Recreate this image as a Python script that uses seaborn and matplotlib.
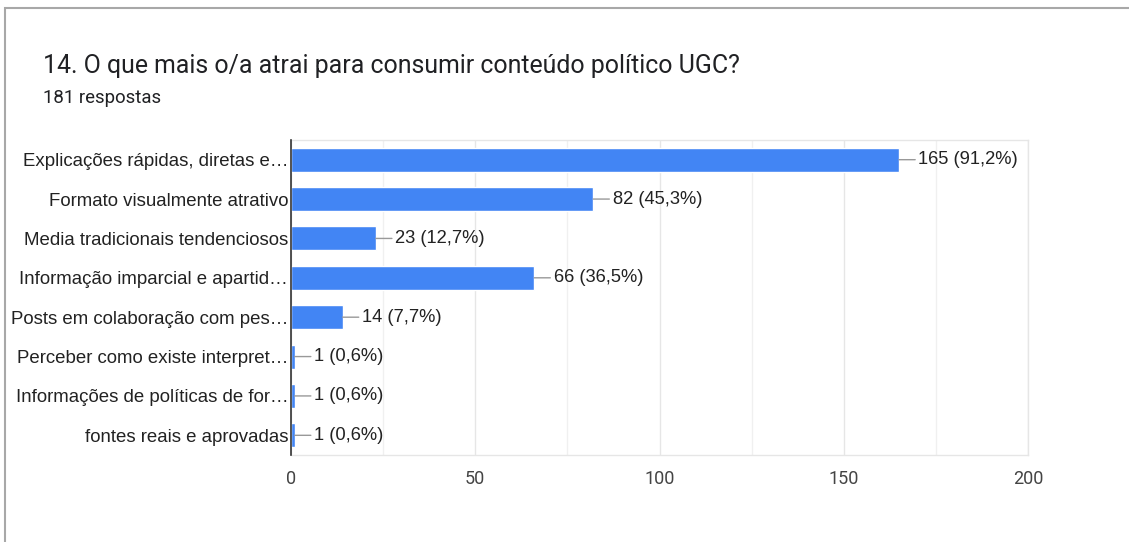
import matplotlib
matplotlib.use("Agg")
import matplotlib.pyplot as plt
import seaborn as sns
import pandas as pd
from matplotlib.patches import Rectangle

categories = [
    "Explicações rápidas, diretas e…",
    "Formato visualmente atrativo",
    "Media tradicionais tendenciosos",
    "Informação imparcial e apartid…",
    "Posts em colaboração com pes…",
    "Perceber como existe interpret…",
    "Informações de políticas de for…",
    "fontes reais e aprovadas",
]
counts = [165, 82, 23, 66, 14, 1, 1, 1]
percents = ["91,2%", "45,3%", "12,7%", "36,5%", "7,7%", "0,6%", "0,6%", "0,6%"]
xticks = [0, 50, 100, 150, 200]

df = pd.DataFrame({"cat": categories, "n": counts})

sns.set_theme(style="white")
plt.rcParams["font.family"] = ["Liberation Sans", "DejaVu Sans"]

fig = plt.figure(figsize=(11.29, 5.42), dpi=100)
# card border
fig.patches.append(Rectangle((5 / 1129, -0.1), 1.2, (1 - 8 / 542) + 0.1,
                             transform=fig.transFigure, fill=False,
                             edgecolor="#a8a8a8", linewidth=1.5))

ax = fig.add_axes([291 / 1129, 1 - 455 / 542, (1028 - 291) / 1129, (455 - 140) / 542])
sns.barplot(data=df, x="n", y="cat", color="#4285f4", width=0.61,
            saturation=1, ax=ax, orient="h")

ax.set_xlim(0, 200)
ax.set_ylim(7.5, -0.5)
ax.set_xticks(xticks)
ax.set_xticks([25, 75, 125, 175], minor=True)
ax.grid(axis="x", which="major", color="#e6e6e6", linewidth=1)
ax.grid(axis="x", which="minor", color="#f0f0f0", linewidth=1)
ax.set_axisbelow(True)
for side in ["top", "right", "bottom"]:
    ax.spines[side].set_color("#e6e6e6")
    ax.spines[side].set_linewidth(1)
ax.spines["left"].set_color("#333333")
ax.spines["left"].set_linewidth(1.2)
ax.spines["left"].set_zorder(5)
ax.set_xlabel("")
ax.set_ylabel("")
ax.tick_params(axis="x", which="both", length=0, pad=11, labelsize=13, labelcolor="#444444")
ax.tick_params(axis="y", length=0, pad=2, labelsize=13.4, labelcolor="#222222")
for t in ax.get_xticklabels():
    t.set_family(["Roboto", "DejaVu Sans"])

for i, (v, p) in enumerate(zip(counts, percents)):
    ax.annotate(f"{v} ({p})", xy=(v, i), xytext=(14, 0), textcoords="offset points",
                va="center", ha="left", fontsize=13.2, color="#222222",
                arrowprops=dict(arrowstyle="-", color="#999999", lw=1,
                                shrinkA=0, shrinkB=0))

fig.text(43 / 1129, 1 - 66 / 542, "14. O que mais o/a atrai para consumir conteúdo político UGC?",
         fontsize=17.9, color="#202124", va="center", ha="left", family=["Roboto", "DejaVu Sans"])
fig.text(43 / 1129, 1 - 98 / 542, "181 respostas", fontsize=13.4, color="#202124",
         va="center", ha="left", family=["Roboto", "DejaVu Sans"])

fig.savefig("out.png", dpi=100, facecolor="white")
